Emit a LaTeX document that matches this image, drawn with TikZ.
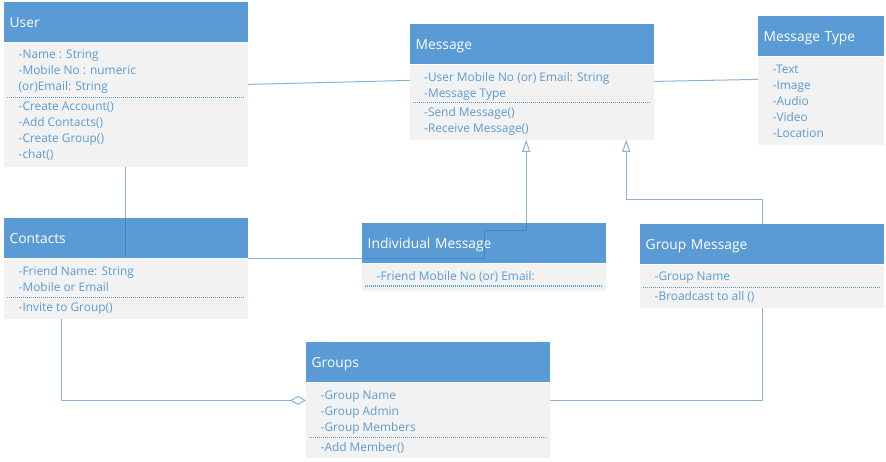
\documentclass[tikz,border=0pt]{standalone}
\usepackage{fontspec}
\setmainfont{Open Sans}
\usetikzlibrary{arrows.meta}

\definecolor{headblue}{RGB}{91,155,213}
\definecolor{bodygray}{RGB}{242,242,242}
\definecolor{textblue}{RGB}{91,155,213}
\definecolor{lineblue}{RGB}{46,117,182}

\tikzset{
	head/.style={fill=headblue, text=white, anchor=north west, align=left,
		minimum height=40pt, inner xsep=5.5pt, inner ysep=0pt,
		text height=11pt, text depth=0pt, font=\fontsize{13.8}{16}\selectfont},
	body/.style={fill=bodygray, anchor=north west, inner sep=0pt},
	% multi-line text: base is the last line
	attr/.style={anchor=base west, align=left, inner sep=0pt, text=textblue,
		font=\fontsize{11.9}{16}\selectfont},
	sepline/.style={textblue, line width=0.8pt, dash pattern=on 1pt off 1pt},
	conn/.style={lineblue, draw opacity=0.55, line width=1pt},
	gen/.style={-{Triangle[fill=white, length=12pt, width=8pt]}},
	aggr/.style={-{Diamond[fill=white, length=16pt, width=9pt]}}
}

\begin{document}
\begin{tikzpicture}[x=1pt, y=-1pt]
	\useasboundingbox (0,0) rectangle (886,462);

	% User
	\node[head, text width=232.5pt] (user) at (4,2) {User};
	\node[body, minimum width=243.5pt, minimum height=124pt] (userbody) at (user.south west) {};
	\node[attr] (userattr) at (18.5,91) {-Name : String\\-Mobile No : numeric\\(or)Email: String};
	\draw[sepline] (7,97) -- (244,97);
	\node[attr] (userops) at (18.5,158.5) {-Create Account()\\-Add Contacts()\\-Create Group()\\-chat()};

	% Message
	\node[head, text width=233pt] (msg) at (410,24) {Message};
	\node[body, minimum width=244pt, minimum height=75pt] (msgbody) at (msg.south west) {};
	\node[attr] (msgattr) at (424,97.5) {-User Mobile No (or) Email: String\\-Message Type};
	\draw[sepline] (413,102.3) -- (651,102.3);
	\node[attr] (msgops) at (424,132.5) {-Send Message()\\-Receive Message()};

	% Message Type
	\node[head, text width=115pt] (mtype) at (758,16) {Message Type};
	\node[body, minimum width=126pt, minimum height=88pt] (mtypebody) at (mtype.south west) {};
	\node[attr] (mtypeattr) at (772.5,137.5) {-Text\\-Image\\-Audio\\-Video\\-Location};

	% Contacts
	\node[head, text width=232.5pt] (contacts) at (4,218) {Contacts};
	\node[body, minimum width=243.5pt, minimum height=60pt] (contactsbody) at (contacts.south west) {};
	\node[attr] (contactsattr) at (18.5,291.5) {-Friend Name: String\\-Mobile or Email};
	\draw[sepline] (7,297.3) -- (244,297.3);
	\node[attr] (contactsops) at (18.5,311.5) {-Invite to Group()};

	% Individual Message
	\node[head, text width=233pt] (indiv) at (362,223) {Individual Message};
	\node[body, minimum width=244pt, minimum height=27pt] (indivbody) at (indiv.south west) {};
	\node[attr] (indivattr) at (376.5,280.5) {-Friend Mobile No (or) Email:};
	\draw[sepline, line width=1.2pt] (365,286) -- (603,286);

	% Group Message
	\node[head, text width=233pt] (gmsg) at (640,224) {Group Message};
	\node[body, minimum width=244pt, minimum height=43pt] (gmsgbody) at (gmsg.south west) {};
	\node[attr] (gmsgattr) at (654.5,281) {-Group Name};
	\draw[sepline] (643,287) -- (881,287);
	\node[attr] (gmsgops) at (654.5,301) {-Broadcast to all ()};

	% Groups
	\node[head, text width=233pt] (groups) at (306,342) {Groups};
	\node[body, minimum width=244pt, minimum height=75pt] (groupsbody) at (groups.south west) {};
	\node[attr] (groupsattr) at (320.5,431.5) {-Group Name\\-Group Admin\\-Group Members};
	\draw[sepline] (309,437) -- (547,437);
	\node[attr] (groupsops) at (320.5,451.5) {-Add Member()};

	% connectors
	\draw[conn] ([yshift=-42pt]userbody.north east) -- ([yshift=-16pt]msgbody.north west);
	\draw[conn] ([yshift=-17pt]msgbody.north east) -- ([yshift=-23pt]mtypebody.north west);
	\draw[conn] (userbody.south) -- (contacts.south);
	\draw[conn, gen] (contacts.south east) -- ++(237,0) -- ++(0,-28) -| ([xshift=-6pt]msgbody.south);
	\draw[conn, gen] (gmsg.north) -- ++(0,-24) -| ([xshift=94pt]msgbody.south);
	\draw[conn, aggr] ([xshift=57pt]contactsbody.south west) |- ([yshift=-18pt]groupsbody.north west);
	\draw[conn] (gmsgbody.south) |- ([yshift=-18pt]groupsbody.north east);
\end{tikzpicture}
\end{document}
